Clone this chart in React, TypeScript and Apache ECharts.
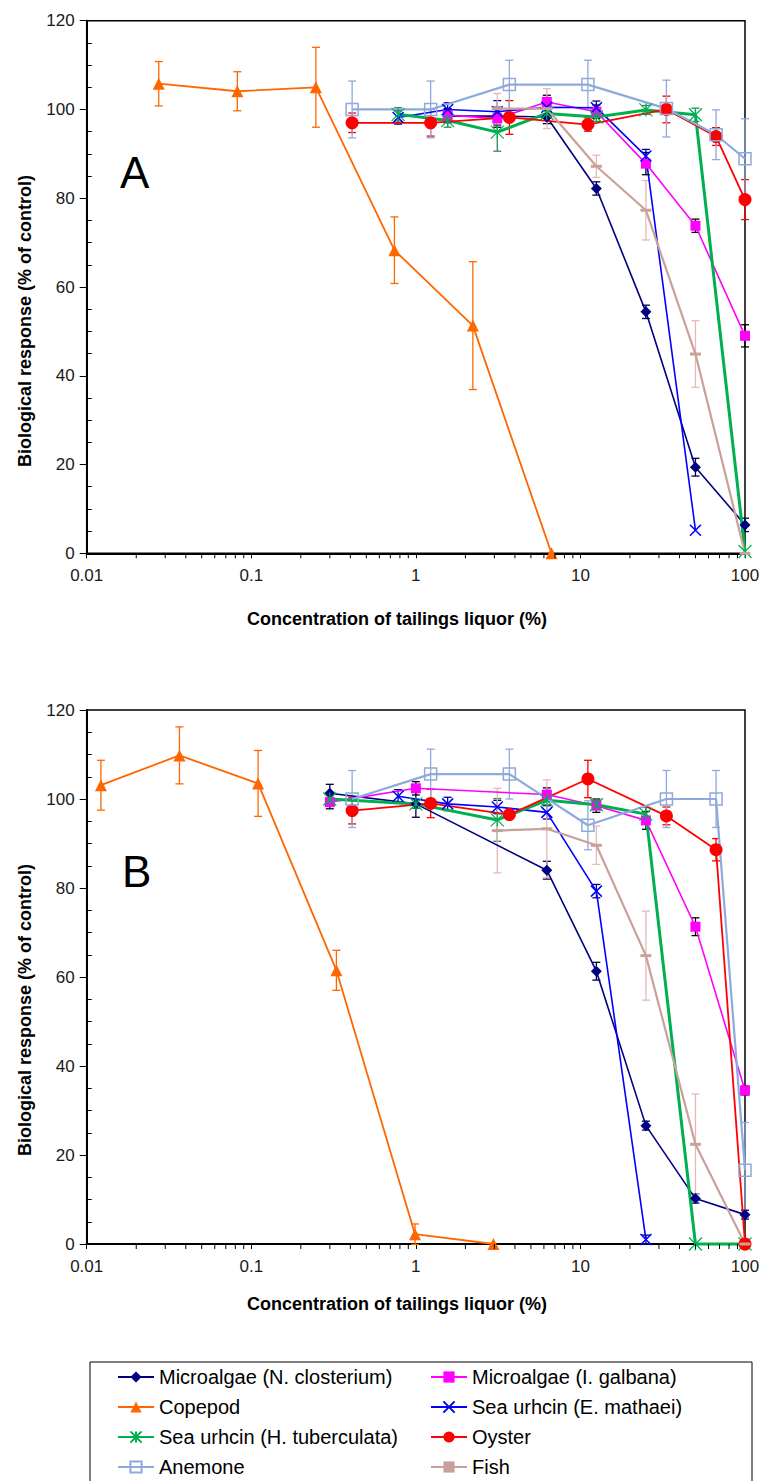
import React, { useEffect, useRef } from "react";
import * as echarts from "echarts";

// ---------- Panel A data ----------
const A_nclo_x = [1.56, 3.125, 6.25, 12.5, 25, 50, 100];
const A_nclo_y = [98.5, 98.5, 98.3, 82.2, 54.4, 19.4, 6.4];
const A_nclo_e = [1.5, 2, 1.5, 1.5, 1.5, 2, 1.5];

const A_igal_x = [1.56, 3.125, 6.25, 12.5, 25, 50, 100];
const A_igal_y = [98.7, 98.0, 101.7, 99.5, 87.8, 73.8, 49.0];
const A_igal_e = [1.5, 2, 1.5, 1.5, 2.5, 1.5, 2.5];

const A_cope_x = [0.0274, 0.0823, 0.247, 0.741, 2.22, 6.67];
const A_cope_y = [105.8, 104.1, 105.0, 68.3, 51.3, 0];
const A_cope_e = [5, 4.4, 9, 7.5, 14.4, 0];

const A_emat_x = [0.78, 1.56, 3.125, 6.25, 12.5, 25, 50];
const A_emat_y = [98.2, 100.0, 99.5, 100.5, 100.4, 89.5, 5.2];
const A_emat_e = [1.5, 1.5, 2.5, 1.5, 1.5, 1.5, 0];

const A_htub_x = [0.78, 1.56, 3.125, 6.25, 12.5, 25, 50, 100];
const A_htub_y = [98.9, 97.5, 94.9, 99.1, 98.3, 99.9, 98.8, 0.4];
const A_htub_e = [1.5, 1.5, 4.3, 1, 1, 1, 1.5, 0];

const A_oyst_x = [0.41, 1.23, 3.7, 11.1, 33.3, 66.7, 100];
const A_oyst_y = [97.0, 97.0, 98.2, 96.6, 100.0, 93.9, 79.7];
const A_oyst_e = [2.2, 3, 3.8, 1.5, 3, 2, 4.5];

const A_anem_x = [0.41, 1.23, 3.7, 11.1, 33.3, 66.7, 100];
const A_anem_y = [100.0, 100.0, 105.6, 105.6, 100.2, 94.3, 88.9];
const A_anem_e = [6.4, 6.4, 5.5, 5.5, 6.4, 5.6, 9];

const A_fish_x = [3.125, 6.25, 12.5, 25, 50, 100];
const A_fish_y = [100.2, 100.2, 87.2, 77.3, 44.9, 0];
const A_fish_e = [3.4, 4.5, 2.5, 6.7, 7.5, 0];

// ---------- Panel B data ----------
const B_nclo_x = [0.3, 1, 6.25, 12.5, 25, 50, 100];
const B_nclo_y = [101.3, 98.9, 84.0, 61.3, 26.6, 10.2, 6.6];
const B_nclo_e = [2, 3, 2, 2, 1, 1, 1];

const B_igal_x = [0.3, 1, 6.25, 12.5, 25, 50, 100];
const B_igal_y = [99.3, 102.4, 101.0, 98.5, 95.2, 71.3, 34.5];
const B_igal_e = [1.5, 1.5, 1.5, 1.5, 2, 2, 1];

const B_cope_x = [0.0122, 0.0366, 0.11, 0.329, 0.988, 2.96];
const B_cope_y = [103.1, 109.8, 103.5, 61.5, 2.2, 0];
const B_cope_e = [5.6, 6.4, 7.4, 4.5, 2.3, 0];

const B_emat_x = [0.78, 1.56, 3.125, 6.25, 12.5, 25];
const B_emat_y = [100.6, 98.9, 98.2, 97.0, 79.3, 1.0];
const B_emat_e = [1.5, 1.5, 1.5, 1.5, 1.5, 1];

const B_htub_x = [0.3, 1, 3.125, 6.25, 12.5, 25, 50, 100];
const B_htub_y = [100.0, 98.9, 95.3, 99.7, 98.7, 96.6, 0, 0];
const B_htub_e = [1, 1, 4.8, 1, 1, 1.5, 0, 0];

const B_oyst_x = [0.41, 1.23, 3.7, 11.1, 33.3, 66.7, 100];
const B_oyst_y = [97.4, 99.0, 96.5, 104.5, 96.2, 88.6, 0];
const B_oyst_e = [3, 3.2, 1, 4.2, 2, 2.5, 0];

const B_anem_x = [0.41, 1.23, 3.7, 11.1, 33.3, 66.7, 100];
const B_anem_y = [100.0, 105.6, 105.6, 94.1, 100.0, 100.0, 16.6];
const B_anem_e = [6.4, 5.6, 5.6, 5.5, 6.4, 6.4, 10.7];

const B_fish_x = [3.125, 6.25, 12.5, 25, 50, 100];
const B_fish_y = [92.9, 93.3, 89.6, 64.8, 22.4, 0];
const B_fish_e = [9.5, 11, 4.3, 10, 11.3, 0];

// ---------- Axis ticks / labels ----------
const X_MINOR_TICKS = [
  0.02, 0.03, 0.04, 0.05, 0.06, 0.07, 0.08, 0.09,
  0.2, 0.3, 0.4, 0.5, 0.6, 0.7, 0.8, 0.9,
  2, 3, 4, 5, 6, 7, 8, 9,
  20, 30, 40, 50, 60, 70, 80, 90,
];
const X_TITLE = "Concentration of tailings liquor (%)";
const Y_TITLE = "Biological response (% of control)";
const PANEL_LABELS = ["A", "B"];

const SPECIES_NAMES = [
  "Microalgae (N. closterium)",
  "Microalgae (I. galbana)",
  "Copepod",
  "Sea urhcin (E. mathaei)",
  "Sea urhcin (H. tuberculata)",
  "Oyster",
  "Anemone",
  "Fish",
];

const PANEL_DATA = [
  [
    [A_nclo_x, A_nclo_y, A_nclo_e],
    [A_igal_x, A_igal_y, A_igal_e],
    [A_cope_x, A_cope_y, A_cope_e],
    [A_emat_x, A_emat_y, A_emat_e],
    [A_htub_x, A_htub_y, A_htub_e],
    [A_oyst_x, A_oyst_y, A_oyst_e],
    [A_anem_x, A_anem_y, A_anem_e],
    [A_fish_x, A_fish_y, A_fish_e],
  ],
  [
    [B_nclo_x, B_nclo_y, B_nclo_e],
    [B_igal_x, B_igal_y, B_igal_e],
    [B_cope_x, B_cope_y, B_cope_e],
    [B_emat_x, B_emat_y, B_emat_e],
    [B_htub_x, B_htub_y, B_htub_e],
    [B_oyst_x, B_oyst_y, B_oyst_e],
    [B_anem_x, B_anem_y, B_anem_e],
    [B_fish_x, B_fish_y, B_fish_e],
  ],
];

// ---------- Styles ----------
const X_PATH = "path://M0,0L10,10M10,0L0,10";
const STAR_PATH = "path://M0,0L10,10M10,0L0,10M5,0L5,10";
const STYLES: any[] = [
  { color: "#000080", symbol: "diamond", size: 11, width: 1.6, err: "#000040", item: {} },
  { color: "#FF00FF", symbol: "rect", size: 10, width: 1.6, err: "#000000", item: {} },
  { color: "#FF6600", symbol: "triangle", size: 12, width: 1.8, err: "#FF6600", item: {} },
  { color: "#0000FF", symbol: X_PATH, size: 11, width: 1.6, err: "#000090", item: { borderColor: "#0000FF", borderWidth: 1.5 } },
  { color: "#00B050", symbol: STAR_PATH, size: 13, width: 3, err: "#2E8B57", item: { borderColor: "#00B050", borderWidth: 1.2 } },
  { color: "#FF0000", symbol: "circle", size: 13, width: 1.8, err: "#FF0000", item: {} },
  { color: "#8EA9DB", symbol: "rect", size: 12, width: 2.2, err: "#8EA9DB", item: { color: "rgba(255,255,255,0)", borderColor: "#8EA9DB", borderWidth: 1.5 } },
  { color: "#C9A09A", symbol: "rect", size: [11, 3], width: 2.2, err: "#E6B8B7", item: {} },
];

// legend placement: [species index, left, row centre]
const LEGEND_ROWS = [1377, 1407, 1437, 1467];
const LEGEND_COLS = [117, 430];
const LEGEND_ORDER = [
  [0, 2, 4, 6],
  [1, 3, 5, 7],
];

const FONT = "'Liberation Sans', Arial, sans-serif";
const GRIDS = [
  { left: 86.7, top: 20.7, width: 658.3, height: 532.6 },
  { left: 86.7, top: 710, width: 658.3, height: 534 },
];

function fmtLog(v: number) {
  return String(parseFloat(Number(v).toPrecision(6)));
}

function buildOption() {
  const series: any[] = [];
  PANEL_DATA.forEach((panel, pi) => {
    series.push({
      type: "custom",
      name: "minor-ticks-" + pi,
      xAxisIndex: pi,
      yAxisIndex: pi,
      silent: true,
      clip: false,
      z: 10,
      data: X_MINOR_TICKS.map((v) => [v, 0]),
      encode: { x: 0, y: 1 },
      renderItem: (params: any, api: any) => {
        const p = api.coord([api.value(0), 0]);
        return {
          type: "line",
          shape: { x1: p[0], y1: p[1], x2: p[0], y2: p[1] + 5 },
          style: { stroke: "#000", lineWidth: 1 },
        };
      },
    });
    panel.forEach((d, si) => {
      const st = STYLES[si];
      const [xs, ys, es] = d as number[][];
      series.push({
        type: "custom",
        name: "err-" + pi + "-" + si,
        xAxisIndex: pi,
        yAxisIndex: pi,
        silent: true,
        clip: false,
        data: xs.map((x, i) => [x, ys[i], es[i]]),
        encode: { x: 0, y: 1 },
        renderItem: (params: any, api: any) => {
          const x = api.value(0);
          const y = api.value(1);
          const e = api.value(2);
          if (!e) return null;
          const t = api.coord([x, y + e]);
          const b = api.coord([x, y - e]);
          const h = 4;
          const style = { stroke: st.err, lineWidth: 1.3 };
          return {
            type: "group",
            children: [
              { type: "line", shape: { x1: t[0], y1: t[1], x2: b[0], y2: b[1] }, style },
              { type: "line", shape: { x1: t[0] - h, y1: t[1], x2: t[0] + h, y2: t[1] }, style },
              { type: "line", shape: { x1: b[0] - h, y1: b[1], x2: b[0] + h, y2: b[1] }, style },
            ],
          };
        },
      });
      series.push({
        type: "line",
        name: SPECIES_NAMES[si],
        xAxisIndex: pi,
        yAxisIndex: pi,
        data: xs.map((x, i) => [x, ys[i]]),
        symbol: st.symbol,
        symbolSize: st.size,
        showSymbol: true,
        clip: false,
        lineStyle: { color: st.color, width: st.width },
        itemStyle: { color: st.color, ...st.item },
        emphasis: { disabled: true },
      });
    });
  });

  const xAxes = GRIDS.map((g, i) => ({
    type: "log",
    logBase: 10,
    gridIndex: i,
    min: 0.01,
    max: 100,
    axisLine: { show: true, onZero: false, lineStyle: { color: "#000", width: 2 } },
    axisTick: { show: true, length: 5, lineStyle: { color: "#000", width: 1 } },
    minorTick: { show: false },
    splitLine: { show: false },
    axisLabel: { fontSize: 17, color: "#1a1a1a", fontFamily: FONT, margin: 14, formatter: fmtLog },
  }));
  const yAxes = GRIDS.map((g, i) => ({
    type: "value",
    gridIndex: i,
    min: 0,
    max: 120,
    interval: 20,
    axisLine: { show: true, lineStyle: { color: "#000", width: 2 } },
    axisTick: { show: true, length: 7, lineStyle: { color: "#000", width: 1 } },
    minorTick: { show: true, splitNumber: 4, length: -5, lineStyle: { color: "#000", width: 1 } },
    splitLine: { show: false },
    axisLabel: { fontSize: 17, color: "#1a1a1a", fontFamily: FONT, margin: 12 },
  }));

  const legends: any[] = [];
  LEGEND_ORDER.forEach((col, ci) => {
    col.forEach((si, ri) => {
      legends.push({
        orient: "horizontal",
        left: LEGEND_COLS[ci],
        top: LEGEND_ROWS[ri] - 10,
        padding: 0,
        itemWidth: 36,
        itemHeight: 14,
        itemGap: 5,
        selectedMode: false,
        textStyle: { fontSize: 20, color: "#000", fontFamily: FONT, lineHeight: 20 },
        data: [SPECIES_NAMES[si]],
      });
    });
  });

  return {
    animation: false,
    backgroundColor: "#fff",
    textStyle: { fontFamily: FONT },
    grid: GRIDS.map((g) => ({ ...g, show: true, borderColor: "#000", borderWidth: 1.5, backgroundColor: "transparent" })),
    xAxis: xAxes,
    yAxis: yAxes,
    legend: legends,
    graphic: [
      { type: "rect", shape: { x: 90, y: 1362, width: 662, height: 140 }, style: { fill: "none", stroke: "#000", lineWidth: 1 }, silent: true },
      { type: "text", x: 120, y: 172, style: { text: PANEL_LABELS[0], fontSize: 44, fontFamily: FONT, fill: "#000", verticalAlign: "middle" } },
      { type: "text", x: 122, y: 871, style: { text: PANEL_LABELS[1], fontSize: 44, fontFamily: FONT, fill: "#000", verticalAlign: "middle" } },
      { type: "text", x: 397, y: 619, style: { text: X_TITLE, fontSize: 18, fontWeight: "bold", fontFamily: FONT, fill: "#000", align: "center", verticalAlign: "middle" } },
      { type: "text", x: 397, y: 1304, style: { text: X_TITLE, fontSize: 18, fontWeight: "bold", fontFamily: FONT, fill: "#000", align: "center", verticalAlign: "middle" } },
      { type: "text", x: 25, y: 321, rotation: Math.PI / 2, style: { text: Y_TITLE, fontSize: 18, fontWeight: "bold", fontFamily: FONT, fill: "#000", align: "center", verticalAlign: "middle" } },
      { type: "text", x: 25, y: 1010, rotation: Math.PI / 2, style: { text: Y_TITLE, fontSize: 18, fontWeight: "bold", fontFamily: FONT, fill: "#000", align: "center", verticalAlign: "middle" } },
    ],
    series,
  };
}

export default function App() {
  const ref = useRef<HTMLDivElement>(null);
  useEffect(() => {
    if (!ref.current) return;
    const chart = echarts.init(ref.current, undefined, { renderer: "svg" });
    chart.setOption(buildOption() as any);
    return () => chart.dispose();
  }, []);
  return (
    <div
      ref={ref}
      style={{ position: "fixed", left: 0, top: 0, width: 764, height: 1481, background: "#fff" }}
    />
  );
}
